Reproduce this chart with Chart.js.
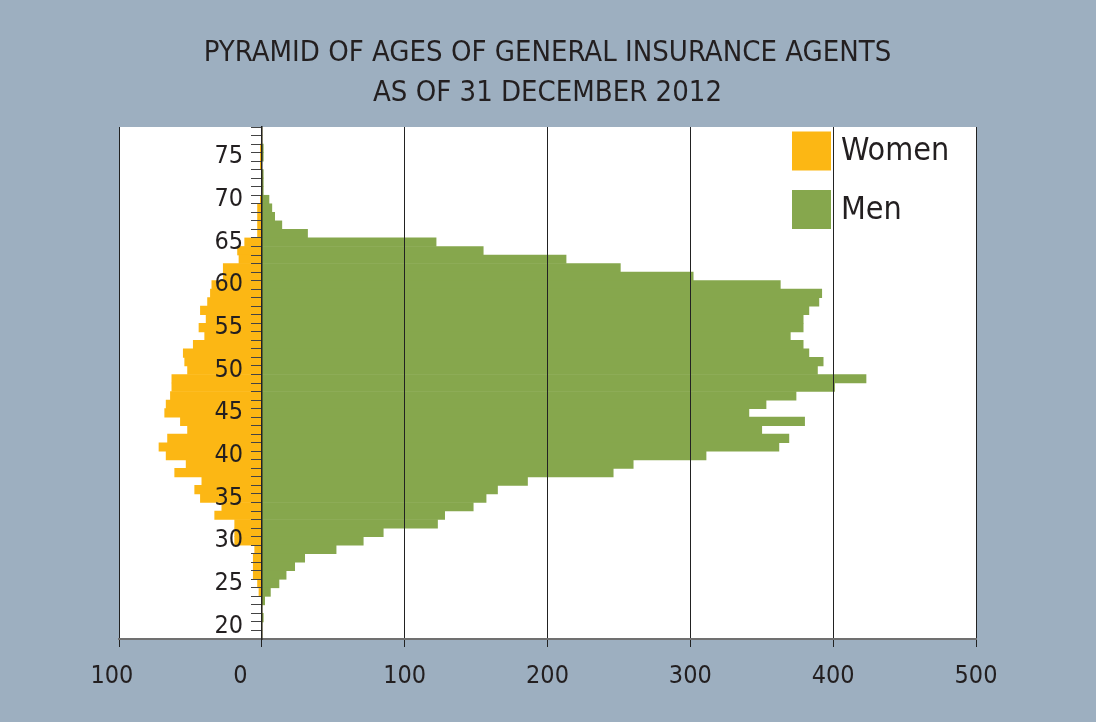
<!DOCTYPE html>
<html>
<head>
<meta charset="utf-8">
<script src="https://cdn.jsdelivr.net/npm/chart.js@4.4.1/dist/chart.umd.min.js"></script>
<style>
  html, body { margin: 0; padding: 0; background: #9dafc0; }
  #wrap { width: 1096px; height: 722px; position: relative; }
</style>
</head>
<body>
<div id="wrap"><canvas id="pyramid"></canvas></div>
<script>
// ages from top (oldest) to bottom
const ages = [78, 77, 76, 75, 74, 73, 72, 71, 70, 69, 68, 67, 66, 65, 64, 63, 62, 61, 60, 59,
  58, 57, 56, 55, 54, 53, 52, 51, 50, 49, 48, 47, 46, 45, 44, 43, 42, 41, 40, 39,
  38, 37, 36, 35, 34, 33, 32, 31, 30, 29, 28, 27, 26, 25, 24, 23, 22, 21, 20, 19];

const women = [0, 0, 1, 1, 1, 0, 0, 0, 1, 3, 3, 3, 3, 12, 17, 16, 27, 27, 35, 36,
  38, 43, 39, 44, 40, 48, 55, 54, 52, 63, 63, 64, 67, 68, 57, 52, 66, 72, 67, 53,
  61, 42, 47, 43, 28, 33, 19, 19, 19, 5, 6, 6, 6, 3, 2, 0, 0, 0, 0, 0];

const men = [0, 0, 1, 1, 0, 1, 1, 1, 5, 7, 9, 14, 32, 122, 155, 213, 251, 302, 363, 392,
  390, 383, 379, 379, 370, 379, 383, 393, 389, 423, 401, 374, 353, 341, 380, 350, 369, 362, 311, 260,
  246, 186, 165, 157, 148, 128, 123, 85, 71, 52, 30, 23, 17, 12, 6, 2, 0, 1, 0, 0];

const xTicks = [-100, 0, 100, 200, 300, 400, 500];

const FONT = "'Liberation Sans Narrow', 'DejaVu Sans Condensed', 'Arial Narrow', sans-serif";
const INK = '#231f20';
const FIG = '\u2007';
Chart.defaults.font.family = FONT;
Chart.defaults.color = INK;

// page background + white plot area
const backdrop = {
  id: 'backdrop',
  beforeDraw(chart) {
    const { ctx, chartArea: a } = chart;
    ctx.save();
    ctx.fillStyle = '#9dafc0';
    ctx.fillRect(0, 0, chart.width, chart.height);
    ctx.fillStyle = '#ffffff';
    ctx.fillRect(a.left, a.top, a.right - a.left, a.bottom - a.top);
    ctx.restore();
  }
};

// legend inside the plot, top right
const boxLegend = {
  id: 'boxLegend',
  afterDraw(chart) {
    const { ctx, chartArea: a } = chart;
    const x = a.right - 184, size = 39, gap = 58.5;
    ctx.save();
    ctx.font = '32px ' + FONT;
    ctx.textBaseline = 'middle';
    ctx.textAlign = 'left';
    chart.data.datasets.forEach((ds, i) => {
      const y = a.top + 4.5 + i * gap;
      ctx.fillStyle = ds.backgroundColor;
      ctx.fillRect(x, y, size, size);
      ctx.fillStyle = INK;
      ctx.fillText(ds.label, x + size + 10, y + size / 2 + 1);
    });
    ctx.restore();
  }
};

new Chart(document.getElementById('pyramid'), {
  type: 'bar',
  data: {
    labels: ages.map(String),
    datasets: [
      { label: 'Women', data: women.map(v => -v), backgroundColor: '#fcb714' },
      { label: 'Men', data: men, backgroundColor: '#86a74d' }
    ]
  },
  options: {
    indexAxis: 'y',
    responsive: true,
    maintainAspectRatio: false,
    animation: false,
    layout: { padding: { left: 119, right: 120, top: 0, bottom: 0 } },
    datasets: { bar: { barPercentage: 1, categoryPercentage: 1, borderWidth: 0 } },
    plugins: {
      legend: { display: false },
      tooltip: { enabled: false },
      title: {
        display: true,
        text: ['PYRAMID OF AGES OF GENERAL INSURANCE AGENTS', 'AS OF 31 DECEMBER 2012'],
        color: INK,
        font: { size: 29, weight: 'normal', lineHeight: '40px' },
        padding: { top: 33, bottom: 14 }
      }
    },
    scales: {
      x: {
        type: 'linear',
        stacked: true,
        min: -100,
        max: 500,
        afterBuildTicks: (s) => { s.ticks = xTicks.map(v => ({ value: v })); },
        afterFit: (s) => { s.height = 83; },
        grid: { color: '#222', lineWidth: 1, tickLength: 8, z: 1 },
        border: { display: true, color: '#707070', width: 2, z: 2 },
        ticks: {
          color: INK,
          padding: 14,
          font: { size: 25 },
          maxRotation: 0,
          // the reference sets "0" and the left "100" a little to the left of their lines
          callback: (v) => v === 0 ? '0' + FIG + FIG + FIG : v < 0 ? Math.abs(v) + FIG : String(v)
        }
      },
      y: {
        type: 'category',
        axis: 'y',
        stacked: true,
        position: { x: 0 },
        grid: { offset: true, drawOnChartArea: false, tickLength: 10, color: '#444', lineWidth: 1, z: 1 },
        border: { display: true, color: '#222', width: 1.5, z: 2 },
        ticks: {
          autoSkip: false,
          color: INK,
          font: { size: 25 },
          z: 2,
          callback: function (v) {
            const age = ages[v];
            return age % 5 === 0 ? age + FIG + '\u2009' : '';
          }
        }
      }
    }
  },
  plugins: [backdrop, boxLegend]
});
</script>
</body>
</html>
